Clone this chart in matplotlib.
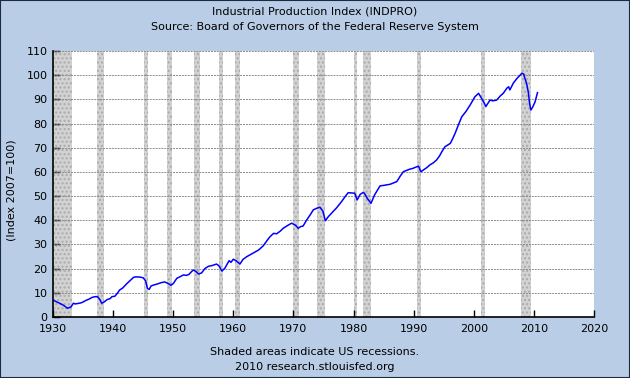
import matplotlib
matplotlib.use("Agg")
import matplotlib.pyplot as plt
import matplotlib.patches as mpatches

# ---- data ----
years = [1930.0, 1930.5, 1931.0, 1931.5, 1932.0, 1932.4, 1932.8, 1933.0, 1933.4, 1933.7, 1934.2, 1934.6,
         1935.0, 1935.5, 1936.0, 1936.5, 1937.0, 1937.4, 1937.8, 1938.1, 1938.5, 1939.0, 1939.5,
         1939.8, 1940.3, 1940.7, 1941.1, 1941.6, 1942.2, 1942.8, 1943.4, 1943.8, 1944.5, 1945.0,
         1945.4, 1945.7, 1946.0, 1946.3, 1946.7, 1947.3, 1948.0, 1948.6, 1949.2, 1949.6, 1950.0,
         1950.6, 1951.1, 1951.7, 1952.2, 1952.6, 1953.3, 1953.7, 1954.2, 1954.7, 1955.3, 1955.9,
         1956.5, 1957.2, 1957.6, 1958.1, 1958.6, 1959.3, 1959.6, 1960.0, 1960.5, 1961.1, 1961.6,
         1962.2, 1963.0, 1964.2, 1965.0, 1965.6, 1966.1, 1966.7, 1967.2, 1967.8, 1968.3, 1969.0,
         1969.7, 1970.3, 1970.8, 1971.2, 1971.6, 1972.2, 1972.8, 1973.3, 1973.9, 1974.4, 1974.9,
         1975.3, 1975.8, 1976.4, 1977.2, 1978.0, 1978.6, 1979.1, 1979.7, 1980.2, 1980.6, 1981.1,
         1981.6, 1981.8, 1982.3, 1982.9, 1983.5, 1984.4, 1985.2, 1986.1, 1987.2, 1987.8, 1988.3,
         1989.2, 1989.9, 1990.8, 1991.2, 1991.6, 1992.2, 1992.7, 1993.3, 1993.8, 1994.3, 1994.7,
         1995.2, 1996.1, 1996.5, 1996.9, 1997.5, 1998.0, 1998.7, 1999.4, 2000.2, 2000.8, 2001.3,
         2001.8, 2002.0, 2002.4, 2002.7, 2003.2, 2003.8, 2004.4, 2004.9, 2005.5, 2005.8, 2006.0,
         2006.6, 2007.2, 2007.6, 2008.0, 2008.3, 2008.5, 2008.8, 2009.1, 2009.3, 2009.5, 2009.8,
         2010.2, 2010.6]
values = [7.0, 6.4, 5.8, 5.2, 4.4, 3.6, 4.0, 4.2, 5.7, 5.4, 5.6, 5.8,
          6.2, 6.9, 7.4, 8.1, 8.4, 8.4, 7.2, 5.7, 6.2, 7.2, 7.6,
          8.4, 8.6, 9.8, 11.2, 12.0, 13.6, 15.0, 16.4, 16.6, 16.5, 16.2,
          15.0, 11.9, 11.4, 12.8, 13.2, 13.6, 14.2, 14.5, 13.8, 13.1, 13.8,
          16.0, 16.6, 17.4, 17.2, 17.6, 19.4, 19.0, 17.8, 18.2, 20.1, 21.0,
          21.3, 21.9, 21.2, 19.0, 20.2, 23.3, 22.6, 23.9, 23.2, 21.9, 23.8,
          24.9, 26.0, 27.7, 29.5, 31.6, 33.2, 34.6, 34.4, 35.5, 36.7, 37.8,
          38.8, 38.0, 36.7, 37.4, 37.6, 40.1, 42.3, 44.3, 45.0, 45.4, 43.8,
          39.8, 41.5, 43.1, 45.2, 47.7, 49.8, 51.4, 51.3, 51.2, 48.4, 50.7,
          51.5, 51.2, 49.0, 47.0, 50.5, 54.2, 54.5, 54.9, 56.0, 58.4, 60.1,
          61.0, 61.5, 62.4, 60.1, 60.8, 61.8, 62.9, 63.8, 64.9, 66.6, 68.4,
          70.4, 71.8, 73.8, 76.0, 79.8, 82.8, 85.0, 87.7, 91.1, 92.5, 90.4,
          88.2, 87.0, 88.5, 89.7, 89.4, 89.7, 91.4, 92.5, 94.6, 95.2, 93.9,
          96.8, 98.7, 99.7, 100.8, 100.5, 98.7, 96.5, 92.5, 88.0, 85.6, 86.8,
          89.0, 92.8]

recessions = [(1929.6, 1933.2), (1937.4, 1938.5), (1945.1, 1945.8), (1948.9, 1949.8),
              (1953.5, 1954.4), (1957.6, 1958.3), (1960.3, 1961.1), (1969.9, 1970.9),
              (1973.9, 1975.2), (1980.0, 1980.5), (1981.5, 1982.9), (1990.5, 1991.2),
              (2001.2, 2001.9), (2007.9, 2009.5)]

xticks = [1930, 1940, 1950, 1960, 1970, 1980, 1990, 2000, 2010, 2020]
yticks = [0, 10, 20, 30, 40, 50, 60, 70, 80, 90, 100, 110]

title1 = "Industrial Production Index (INDPRO)"
title2 = "Source: Board of Governors of the Federal Reserve System"
ylabel = "(Index 2007=100)"
foot1 = "Shaded areas indicate US recessions."
foot2 = "2010 research.stlouisfed.org"

# ---- figure ----
W, H = 630, 378
fig = plt.figure(figsize=(W / 100, H / 100), dpi=100, facecolor="#b9cde6")
fig.patches.append(mpatches.Rectangle((0, 0), 1, 1, transform=fig.transFigure,
                                      fill=False, edgecolor="#1a2a40", lw=1.5))

ax = fig.add_axes([53 / W, 1 - 317 / H, 541 / W, 266 / H])
ax.set_facecolor("white")
ax.set_xlim(1930, 2020)
ax.set_ylim(0, 110)

for s, e in recessions:
    ax.axvspan(max(s, 1930), e, facecolor="#d2d2d2", edgecolor="#aaaaaa",
               hatch="....", lw=0, zorder=1)

for y in yticks[1:]:
    ax.axhline(y, color="#8c8c8c", lw=0.7, ls=(0, (2, 1)), zorder=2)

ax.plot(years, values, color="#0000ff", lw=1.1, zorder=3)

for side in ("top", "right"):
    ax.spines[side].set_visible(False)
ax.spines["left"].set_linewidth(1.2)
ax.spines["bottom"].set_linewidth(1.2)
ax.spines["left"].set_zorder(4)
ax.spines["bottom"].set_zorder(4)

ax.set_xticks(xticks)
ax.set_yticks(yticks)
ax.tick_params(axis="both", direction="in", length=5, width=1, labelsize=8,
               colors="black", pad=4)
ax.tick_params(axis="x", pad=5)

fig.text(0.5, 1 - 11 / H, title1, ha="center", va="center", fontsize=8)
fig.text(0.5, 1 - 27 / H, title2, ha="center", va="center", fontsize=8)
fig.text(12 / W, 1 - 190 / H, ylabel, rotation=90, ha="center", va="center", fontsize=8)
fig.text(0.5, 1 - 352 / H, foot1, ha="center", va="center", fontsize=8)
fig.text(0.5, 1 - 367 / H, foot2, ha="center", va="center", fontsize=8)

fig.savefig("out.png", dpi=100, facecolor=fig.get_facecolor())
